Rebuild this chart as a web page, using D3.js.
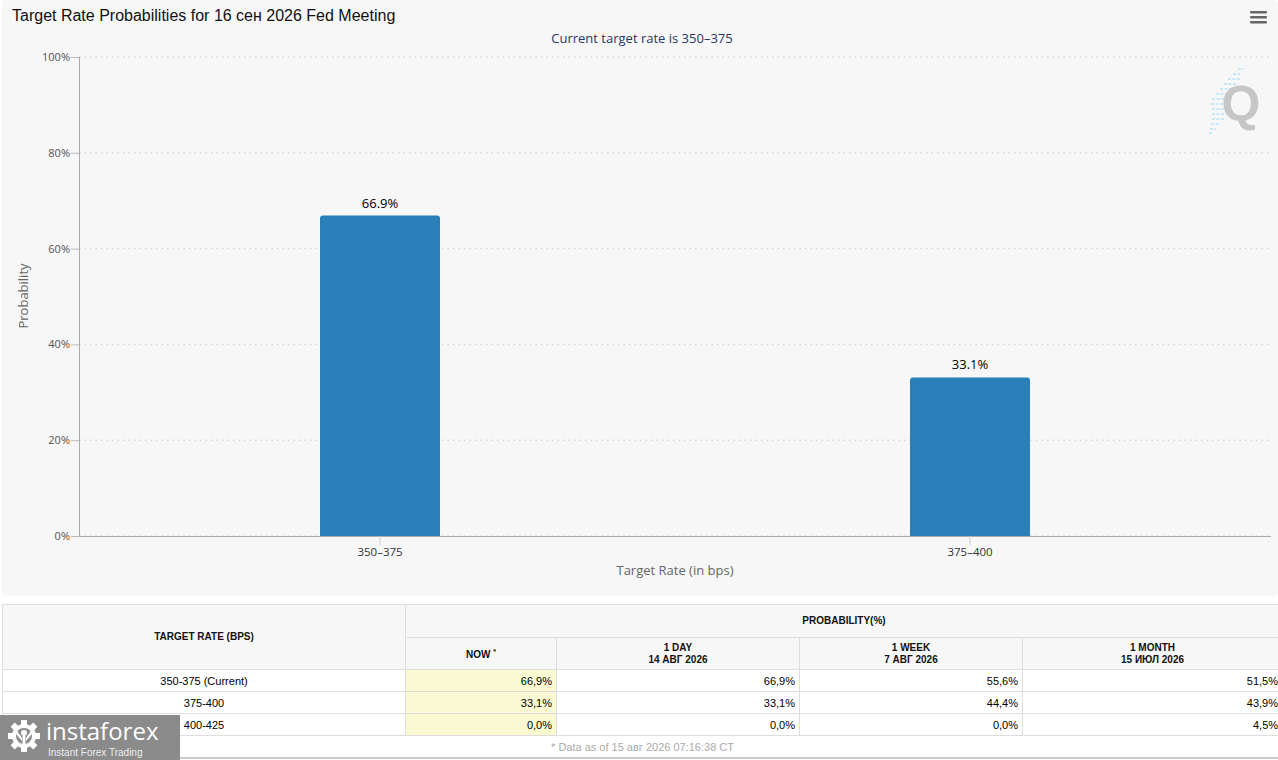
<!DOCTYPE html>
<html>
<head>
<meta charset="utf-8">
<script src="https://cdn.jsdelivr.net/npm/d3@7/dist/d3.min.js"></script>
<style>
  html, body { margin: 0; padding: 0; background: #fff; overflow: hidden; }
  body { width: 1278px; height: 760px; position: relative; }
  #chart { position: absolute; left: 0; top: 0; }
  #tbl { position: absolute; left: 2px; top: 604px; border-collapse: collapse; table-layout: fixed;
         width: 1280px; font-family: "Liberation Sans", Arial, sans-serif; font-size: 11px; color: #000; }
  #tbl th, #tbl td { border: 1px solid #dedede; padding: 0 4px; overflow: hidden; white-space: nowrap; }
  #tbl th { background: #f7f7f7; font-weight: bold; font-size: 10px; text-align: center; line-height: 12px; color: #111; }
  #tbl td { text-align: right; height: 21px; }
  #tbl td.rate { text-align: center; }
  #tbl td.now { background: #fafad2; }
  #tbl td.foot { text-align: center; color: #aaa; border-bottom: 2px solid #ccc; }
  #tbl sup { font-size: 7px; vertical-align: 4px; }
  #logo { position: absolute; left: 0; top: 703px; }
</style>
</head>
<body>
<svg id="chart" width="1278" height="600"></svg>
<table id="tbl"></table>
<svg id="logo" width="182" height="57"></svg>
<script>
// ---- chart data ----
const meetingTitle = "Target Rate Probabilities for 16 сен 2026 Fed Meeting";
const currentRate = "350–375";
const rateBuckets = ["350–375", "375–400"];
const probabilities = [66.9, 33.1];
const yTicks = [0, 20, 40, 60, 80, 100];

// ---- table data ----
const tableRates = ["350-375 (Current)", "375-400", "400-425"];
const colHeads = [["NOW"], ["1 DAY", "14 АВГ 2026"], ["1 WEEK", "7 АВГ 2026"], ["1 MONTH", "15 ИЮЛ 2026"]];
const nowVals = [66.9, 33.1, 0.0];
const dayVals = [66.9, 33.1, 0.0];
const weekVals = [55.6, 44.4, 0.0];
const monthVals = [51.5, 43.9, 4.5];
const footNote = "* Data as of 15 авг 2026 07:16:38 CT";

const svg = d3.select("#chart");
const chartFont = "'Open Sans', 'DejaVu Sans', sans-serif";

// panel background
svg.append("rect")
    .attr("x", 2).attr("y", 0)
    .attr("width", 1276).attr("height", 596)
    .attr("rx", 4)
    .attr("fill", "#f7f7f7");

// title + subtitle
svg.append("text")
    .attr("x", 12).attr("y", 21)
    .attr("font-family", "'Liberation Sans', Arial, sans-serif")
    .attr("font-size", "16px")
    .attr("fill", "#111")
    .text(meetingTitle);

svg.append("text")
    .attr("x", 642).attr("y", 43)
    .attr("text-anchor", "middle")
    .attr("font-family", chartFont)
    .attr("font-size", "13px")
    .attr("fill", "#283566")
    .text("Current target rate is " + currentRate);

// menu icon
svg.append("g").selectAll("rect")
    .data([0, 1, 2])
    .enter()
    .append("rect")
    .attr("x", 1250).attr("y", i => 11 + i * 5)
    .attr("width", 17).attr("height", 2.5)
    .attr("rx", 1)
    .attr("fill", "#666");

// Q watermark
const wm = svg.append("g");
const wmLines = [[1238, 69, 6], [1233, 74, 9], [1228, 79, 12], [1224, 84, 14], [1220, 89, 16], [1216, 94, 18],
                 [1212, 99, 20], [1211, 104, 18], [1212, 109, 16], [1212, 114, 14], [1212, 119, 12], [1211, 124, 9],
                 [1210, 129, 6], [1209, 133, 4]];
wm.selectAll("line")
    .data(wmLines)
    .enter()
    .append("line")
    .attr("x1", d => d[0]).attr("x2", d => d[0] + d[2])
    .attr("y1", d => d[1]).attr("y2", d => d[1])
    .attr("stroke", "#b8e2f6")
    .attr("stroke-width", 1.5)
    .attr("stroke-dasharray", "3,1.5");
wm.append("text")
    .attr("x", 1241).attr("y", 121)
    .attr("text-anchor", "middle")
    .attr("font-family", "'Liberation Sans', Arial, sans-serif")
    .attr("font-weight", "bold")
    .attr("font-size", "50px")
    .attr("fill", "#c6c6c6")
    .text("Q");

// scales
const plotLeft = 79, plotRight = 1271, plotTop = 57, plotBottom = 536;
const y = d3.scaleLinear().domain([0, 100]).range([plotBottom, plotTop]);
const x = d3.scaleBand()
    .domain(rateBuckets)
    .range([85, 1265])
    .paddingInner(0.7966)
    .paddingOuter(0.3983);

// grid
svg.append("g").selectAll("line")
    .data(yTicks)
    .enter()
    .append("line")
    .attr("x1", plotLeft).attr("x2", plotRight)
    .attr("y1", d => y(d)).attr("y2", d => y(d))
    .attr("stroke", "#d6d6d6")
    .attr("stroke-width", 1.5)
    .attr("stroke-dasharray", "1.5,4");

// y axis
const yAxis = svg.append("g")
    .attr("transform", `translate(${plotLeft},0)`)
    .call(d3.axisLeft(y).tickValues(yTicks).tickSize(8).tickPadding(1).tickFormat(d => d + "%"));
yAxis.select(".domain").attr("stroke", "#aaa").attr("d", `M0.5,${plotTop}V${plotBottom}`);
yAxis.selectAll(".tick line").attr("stroke", "#bbb");
yAxis.selectAll(".tick text")
    .attr("font-family", chartFont)
    .attr("font-size", "11px")
    .attr("fill", "#555");

// bars
svg.append("g").selectAll("path")
    .data(probabilities)
    .enter()
    .append("path")
    .attr("d", (d, i) => {
        const x0 = x(rateBuckets[i]), w = x.bandwidth(), y0 = y(d), r = 3;
        return `M${x0},${plotBottom}V${y0 + r}Q${x0},${y0} ${x0 + r},${y0}H${x0 + w - r}Q${x0 + w},${y0} ${x0 + w},${y0 + r}V${plotBottom}Z`;
    })
    .attr("fill", "#2a7fb8");

// data labels
svg.append("g").selectAll("text")
    .data(probabilities)
    .enter()
    .append("text")
    .attr("x", (d, i) => x(rateBuckets[i]) + x.bandwidth() / 2)
    .attr("y", d => y(d) - 8)
    .attr("text-anchor", "middle")
    .attr("font-family", chartFont)
    .attr("font-size", "13px")
    .attr("font-weight", 500)
    .attr("fill", "#000")
    .text(d => d.toFixed(1) + "%");

// x axis
const xAxis = svg.append("g")
    .attr("transform", `translate(0,${plotBottom})`)
    .call(d3.axisBottom(x).tickSize(9).tickPadding(3));
xAxis.select(".domain").attr("stroke", "#aaa").attr("d", `M${plotLeft},0.5H${plotRight}`);
xAxis.selectAll(".tick line").attr("stroke", "#ccc");
xAxis.selectAll(".tick text")
    .attr("font-family", chartFont)
    .attr("font-size", "11.5px")
    .attr("fill", "#333");

// axis titles
svg.append("text")
    .attr("x", 675).attr("y", 575)
    .attr("text-anchor", "middle")
    .attr("font-family", chartFont)
    .attr("font-size", "13px")
    .attr("fill", "#666")
    .text("Target Rate (in bps)");

svg.append("text")
    .attr("transform", "translate(28,296) rotate(-90)")
    .attr("text-anchor", "middle")
    .attr("font-family", chartFont)
    .attr("font-size", "13px")
    .attr("fill", "#666")
    .text("Probability");

// ---- table ----
const fmt = v => v.toFixed(1).replace(".", ",") + "%";
const tbl = d3.select("#tbl");
const colgroup = tbl.append("colgroup");
[403, 151, 243, 223, 260].forEach(w => colgroup.append("col").style("width", w + "px"));

const h1 = tbl.append("tr").style("height", "33px");
h1.append("th").attr("rowspan", 2).text("TARGET RATE (BPS)");
h1.append("th").attr("colspan", 4).text("PROBABILITY(%)");

const h2 = tbl.append("tr").style("height", "32px");
colHeads.forEach((lines, i) => {
    const th = h2.append("th");
    th.html(lines.join("<br>") + (i === 0 ? " <sup>*</sup>" : ""));
});

tableRates.forEach((rate, i) => {
    const tr = tbl.append("tr").style("height", "22px");
    tr.append("td").attr("class", "rate").text(rate);
    tr.append("td").attr("class", "now").text(fmt(nowVals[i]));
    tr.append("td").text(fmt(dayVals[i]));
    tr.append("td").text(fmt(weekVals[i]));
    tr.append("td").text(fmt(monthVals[i]));
});

tbl.append("tr").append("td")
    .attr("colspan", 5)
    .attr("class", "foot")
    .text(footNote);

// ---- watermark logo ----
const logo = d3.select("#logo");
logo.append("rect").attr("y", 12).attr("width", 180).attr("height", 45).attr("fill", "#8b8b8b");
const gear = logo.append("g").attr("transform", "translate(24,33)");
gear.selectAll("rect")
    .data(d3.range(8))
    .enter()
    .append("rect")
    .attr("x", -3).attr("y", -16)
    .attr("width", 6).attr("height", 8)
    .attr("fill", "#fff")
    .attr("transform", d => `rotate(${d * 45})`);
gear.append("circle").attr("r", 12).attr("fill", "#fff");
gear.append("circle").attr("r", 8).attr("fill", "#8b8b8b");
gear.append("circle").attr("cy", -3).attr("r", 3).attr("fill", "#fff");
gear.append("rect").attr("x", -1.5).attr("y", 0).attr("width", 3).attr("height", 14).attr("fill", "#fff");
gear.append("path").attr("d", "M-7,-5 L-2,2 L-2,5 L-8,-2Z M7,-5 L2,2 L2,5 L8,-2Z").attr("fill", "#fff");

logo.append("text")
    .attr("x", 46).attr("y", 37)
    .attr("font-family", "'Open Sans', sans-serif")
    .attr("font-size", "24px")
    .attr("fill", "#fff")
    .text("instaforex");
logo.append("text")
    .attr("x", 48).attr("y", 53)
    .attr("font-family", "'Liberation Sans', Arial, sans-serif")
    .attr("font-size", "10px")
    .attr("fill", "#eee")
    .text("Instant Forex Trading");
</script>
</body>
</html>
